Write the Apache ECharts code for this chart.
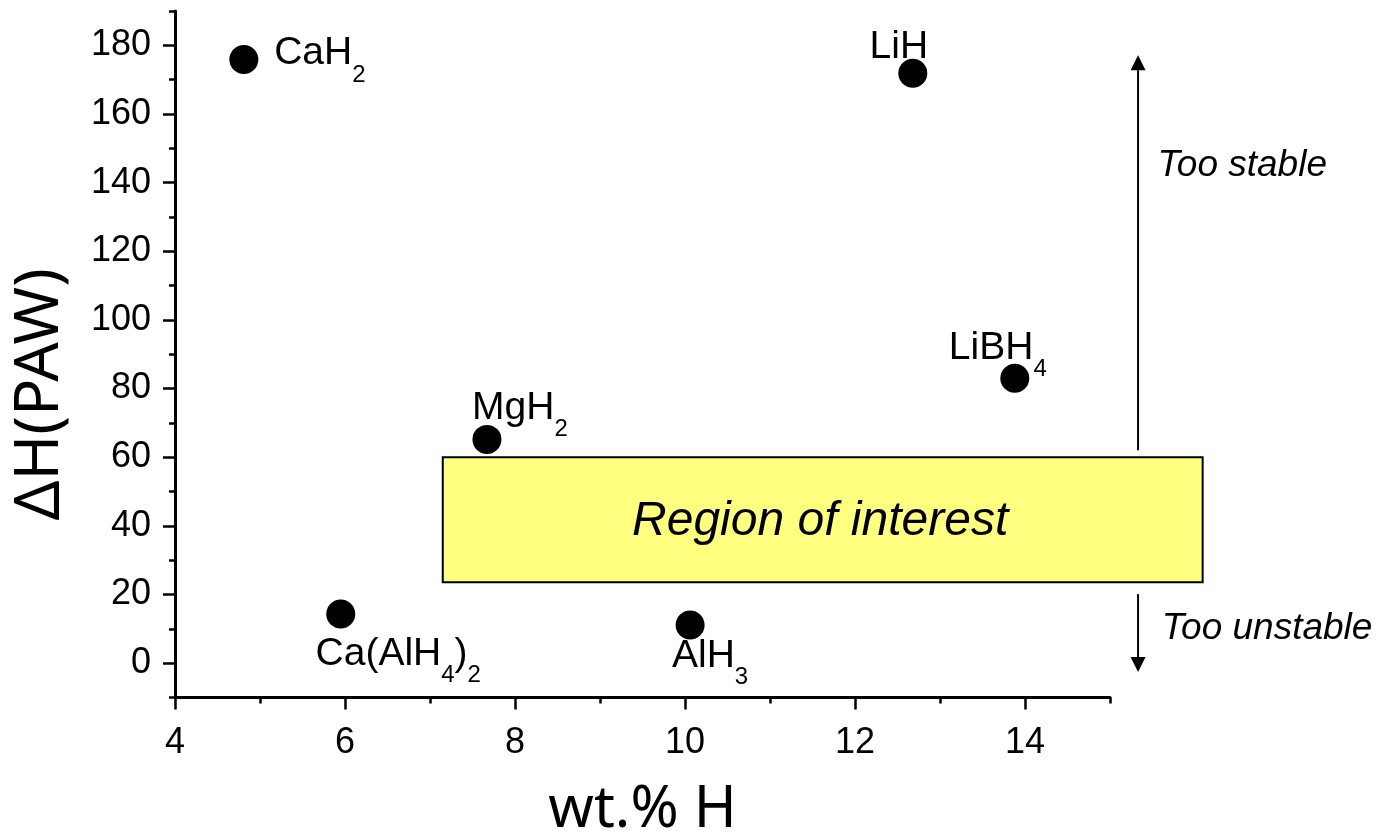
<!DOCTYPE html>
<html><head><meta charset="utf-8">
<script src="https://cdn.jsdelivr.net/npm/echarts@6/dist/echarts.min.js"></script>
<style>html,body{margin:0;padding:0;background:#fff}#c{width:1379px;height:835px}</style>
</head><body><div id="c"></div>
<script>
// ---- data ----
const compounds = ['CaH2', 'LiH', 'LiBH4', 'MgH2', 'Ca(AlH4)2', 'AlH3'];
const wtH = [4.81, 12.68, 13.88, 7.67, 5.95, 10.06];
const dH = [175.9, 171.9, 83.0, 65.2, 14.3, 11.1];
const xMajorTicks = [4, 6, 8, 10, 12, 14];
const xMinorTicks = [5, 7, 9, 11, 13, 15];
const yMajorTicks = [0, 20, 40, 60, 80, 100, 120, 140, 160, 180];
const yMinorTicks = [-10, 10, 30, 50, 70, 90, 110, 130, 150, 170, 190];
const regionBox = [7.15, 23.6, 16.09, 60];       // xFrom, yFrom, xTo, yTo
const regionLabel = 'Region of interest';
const regionLabelAt = [11.59, 41.1];
const arrowX = [15.33, 15.33];
const arrowFrom = [62, 20.1];
const arrowTo = [177.1, -2.6];
const noteText = ['Too stable', 'Too unstable'];
const noteX = [15.56, 15.61];
const noteY = [144.8, 9.9];
const xTitle = 'wt.% H';
const yTitle = 'ΔH(PAW)';

// ---- layout / style ----
const FONT = '"Liberation Sans", Arial, sans-serif';
const labelOffset = {
  'CaH2': [76, -5.5], 'LiH': [-14, -25], 'LiBH4': [-17, -30],
  'MgH2': [33, -31], 'Ca(AlH4)2': [57.5, 40.5], 'AlH3': [20, 31.5]
};
function richName(s) {
  return s.replace(/(\d+)|([^\d]+)/g, (m, d, t) => d ? '{s|' + d + '}' : '{m|' + t + '}');
}
const GRID = { left: 175, right: 269, top: 11, bottom: 137.5, containLabel: false, outerBoundsMode: 'none' };

const chart = echarts.init(document.getElementById('c'), null, { renderer: 'canvas' });
const scatterData = compounds.map((n, i) => ({
  name: n, value: [wtH[i], dH[i]],
  label: { offset: labelOffset[n] }
}));

chart.setOption({
  animation: false,
  backgroundColor: '#fff',
  grid: [Object.assign({}, GRID), Object.assign({}, GRID)],
  xAxis: [{
    gridIndex: 0, type: 'value', min: 4, max: 15,
    name: xTitle, nameLocation: 'middle', nameGap: 84,
    nameTextStyle: { fontSize: 58, fontFamily: '"Noto Sans", sans-serif', color: '#000' },
    splitLine: { show: false },
    axisLine: { show: true, onZero: false, lineStyle: { color: '#000', width: 3 } },
    axisTick: { show: true, length: 12, customValues: xMajorTicks, lineStyle: { color: '#000', width: 2.5 } },
    axisLabel: { customValues: xMajorTicks, fontSize: 36, color: '#000', margin: 28, fontFamily: FONT }
  }, {
    gridIndex: 1, type: 'value', min: 4, max: 15,
    splitLine: { show: false },
    axisLine: { show: false, onZero: false },
    axisTick: { show: true, length: 6, customValues: xMinorTicks, lineStyle: { color: '#000', width: 2.5 } },
    axisLabel: { show: false }
  }],
  yAxis: [{
    gridIndex: 0, type: 'value', min: -10, max: 190,
    name: yTitle, nameLocation: 'middle', nameGap: 104, nameRotate: 90,
    nameTextStyle: { fontSize: 62, fontFamily: '"Noto Sans", sans-serif', color: '#000', padding: [0, 80, 0, 0] },
    splitLine: { show: false },
    axisLine: { show: true, onZero: false, lineStyle: { color: '#000', width: 3 } },
    axisTick: { show: true, length: 12, customValues: yMajorTicks, lineStyle: { color: '#000', width: 2.5 } },
    axisLabel: { customValues: yMajorTicks, fontSize: 36, color: '#000', margin: 24, fontFamily: FONT }
  }, {
    gridIndex: 1, type: 'value', min: -10, max: 190,
    splitLine: { show: false },
    axisLine: { show: false, onZero: false },
    axisTick: { show: true, length: 6, customValues: yMinorTicks, lineStyle: { color: '#000', width: 2.5 } },
    axisLabel: { show: false }
  }],
  series: [
    {
      type: 'custom', xAxisIndex: 0, yAxisIndex: 0, clip: false, z: 1,
      data: [regionBox.concat(regionLabelAt)],
      renderItem: (params, api) => {
        const p0 = api.coord([api.value(0), api.value(3)]);
        const p1 = api.coord([api.value(2), api.value(1)]);
        const t = api.coord([api.value(4), api.value(5)]);
        return { type: 'group', children: [
          { type: 'rect', shape: { x: p0[0], y: p0[1], width: p1[0] - p0[0], height: p1[1] - p0[1] },
            style: { fill: '#ffff80', stroke: '#000', lineWidth: 2 } },
          { type: 'text', x: t[0], y: t[1],
            style: { text: regionLabel, fill: '#000', font: 'italic 48px ' + FONT, align: 'center', verticalAlign: 'middle' } }
        ] };
      }
    },
    {
      type: 'custom', xAxisIndex: 0, yAxisIndex: 0, clip: false, z: 1,
      data: arrowX.map((x, i) => [x, arrowFrom[i], arrowTo[i]]),
      renderItem: (params, api) => {
        const a = api.coord([api.value(0), api.value(1)]);
        const b = api.coord([api.value(0), api.value(2)]);
        const dir = b[1] < a[1] ? -1 : 1;
        const h = 15, w = 7.5;
        return { type: 'group', children: [
          { type: 'line', shape: { x1: a[0], y1: a[1], x2: b[0], y2: b[1] - dir * h },
            style: { stroke: '#000', lineWidth: 2 } },
          { type: 'polygon', shape: { points: [[b[0], b[1]], [b[0] - w, b[1] - dir * h], [b[0] + w, b[1] - dir * h]] },
            style: { fill: '#000' } }
        ] };
      }
    },
    {
      type: 'custom', xAxisIndex: 0, yAxisIndex: 0, clip: false, z: 1,
      data: noteX.map((x, i) => [x, noteY[i]]),
      renderItem: (params, api) => {
        const p = api.coord([api.value(0), api.value(1)]);
        return { type: 'text', x: p[0], y: p[1],
          style: { text: noteText[params.dataIndex], fill: '#000', font: 'italic 37px ' + FONT, align: 'left', verticalAlign: 'middle' } };
      }
    },
    {
      type: 'scatter', xAxisIndex: 0, yAxisIndex: 0, z: 3,
      symbol: 'circle', symbolSize: 29,
      itemStyle: { color: '#000', opacity: 1 },
      data: scatterData,
      label: {
        show: true, position: 'inside', align: 'center', verticalAlign: 'middle',
        color: '#000', opacity: 1,
        formatter: p => richName(p.name),
        rich: {
          m: { fontSize: 39, lineHeight: 40, verticalAlign: 'top', color: '#000', fontFamily: FONT },
          s: { fontSize: 24, lineHeight: 24, padding: [29, 0, 0, 0], verticalAlign: 'top', color: '#000', fontFamily: FONT }
        }
      },
      emphasis: { disabled: true }
    },
    { type: 'scatter', xAxisIndex: 1, yAxisIndex: 1, data: [], silent: true }
  ]
});
</script></body></html>
